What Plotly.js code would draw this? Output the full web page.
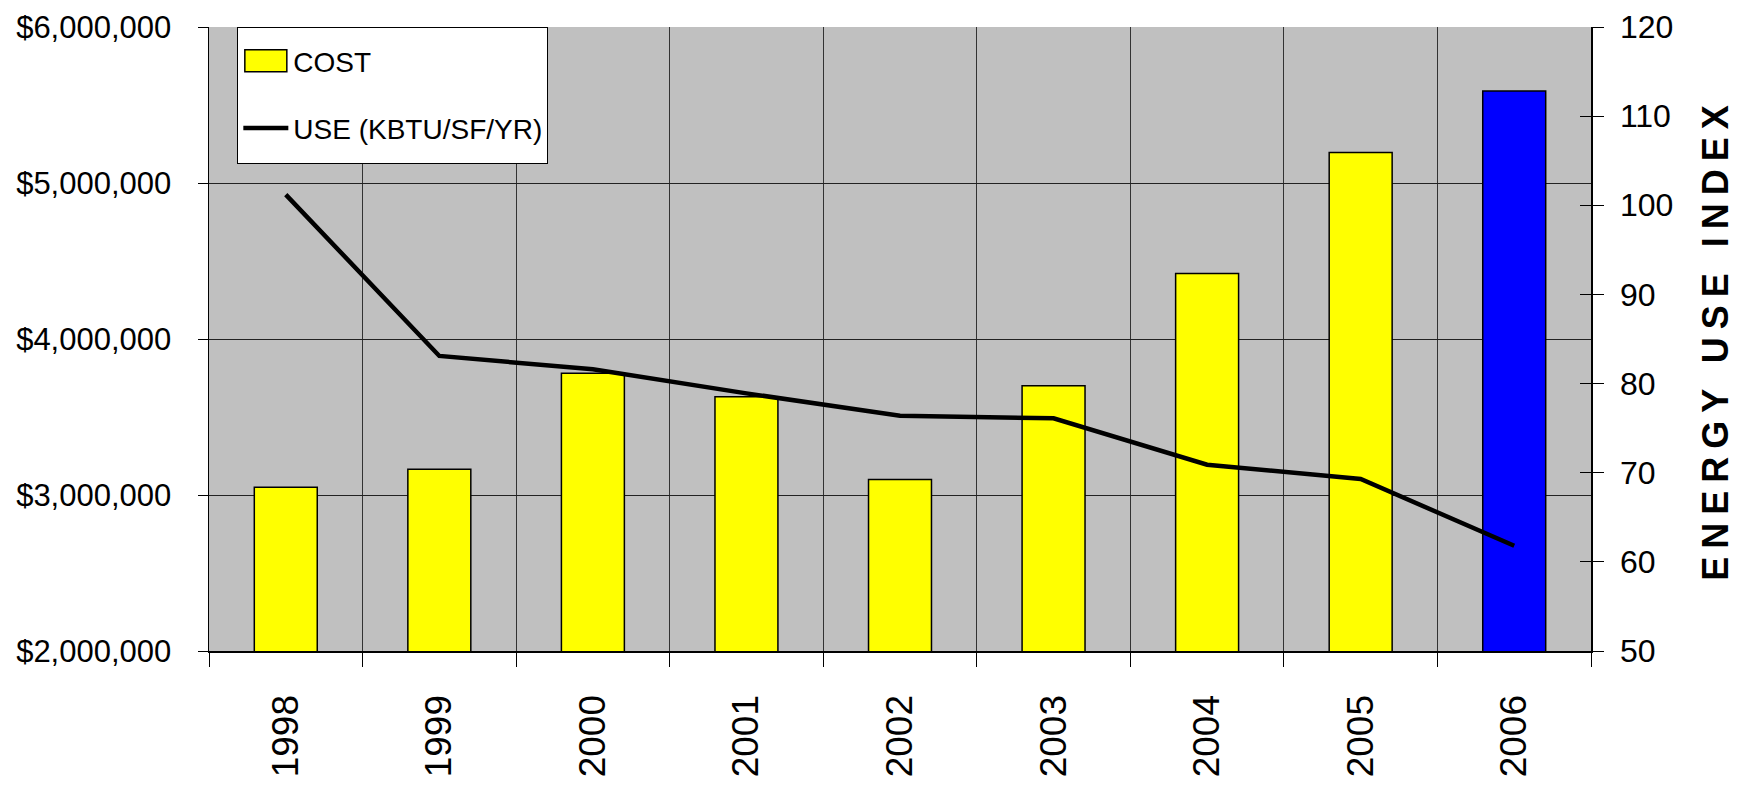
<!DOCTYPE html>
<html>
<head>
<meta charset="utf-8">
<script src="https://cdn.plot.ly/plotly-3.0.1.min.js"></script>
<style>
  html, body { margin: 0; padding: 0; background: #ffffff; }
  #chart { width: 1739px; height: 787px; }
</style>
</head>
<body>
<div id="chart"></div>
<script>
// ---- data ----
const years = ['1998', '1999', '2000', '2001', '2002', '2003', '2004', '2005', '2006'];
const cost = [3050000, 3165000, 3780000, 3630000, 3100000, 3700000, 4420000, 5195000, 5590000];
const useIndex = [101.2, 83.1, 81.6, 78.9, 76.4, 76.1, 70.9, 69.3, 61.8];
const barColors = ['#FFFF00', '#FFFF00', '#FFFF00', '#FFFF00', '#FFFF00', '#FFFF00', '#FFFF00', '#FFFF00', '#0000FF'];
const costName = 'COST';
const useName = 'USE (KBTU/SF/YR)';
const rightTitle = 'ENERGY USE INDEX';

const ARIAL = "'Liberation Sans', Arial, sans-serif";

const traces = [
  {
    type: 'bar', name: costName, x: years, y: cost, xaxis: 'x', yaxis: 'y',
    width: 0.41,
    marker: { color: barColors, line: { color: '#000000', width: 1.5 } },
    legendgroup: 'a'
  },
  {
    type: 'scatter', mode: 'lines', name: useName, x: years, y: useIndex, xaxis: 'x', yaxis: 'y2',
    line: { color: '#000000', width: 4.5 },
    legendgroup: 'b'
  },
  // helper so the inside-tick overlay axis is drawn
  { type: 'scatter', x: [years[0]], y: [null], yaxis: 'y3', showlegend: false, hoverinfo: 'skip' }
];

const layout = {
  width: 1739, height: 787,
  margin: { l: 209, r: 148, t: 27, b: 136 },
  paper_bgcolor: '#ffffff',
  plot_bgcolor: '#C0C0C0',
  showlegend: true,
  legend: {
    x: 0.0205, y: 1, xanchor: 'left', yanchor: 'top',
    bgcolor: '#ffffff', bordercolor: '#000000', borderwidth: 1,
    font: { family: ARIAL, size: 28, color: '#000000' },
    traceorder: 'grouped', tracegroupgap: 28, itemwidth: 45
  },
  xaxis: {
    type: 'category', tickson: 'boundaries',
    showgrid: true, gridcolor: '#333333', gridwidth: 1,
    showline: true, linecolor: '#000000', linewidth: 1.5,
    ticks: 'outside', ticklen: 14, tickcolor: '#000000', tickwidth: 1,
    tickangle: -90, ticklabelstandoff: 10,
    tickfont: { family: ARIAL, size: 37, color: '#000000' },
    fixedrange: true
  },
  yaxis: {
    range: [2000000, 6000000], dtick: 1000000, tick0: 0,
    tickformat: '$,.0f',
    showgrid: true, gridcolor: '#222222', gridwidth: 1,
    zeroline: false,
    showline: true, linecolor: '#000000', linewidth: 1.5,
    ticks: 'outside', ticklen: 10, tickcolor: '#000000', tickwidth: 1,
    ticklabelstandoff: 20,
    tickfont: { family: ARIAL, size: 31, color: '#000000' },
    fixedrange: true
  },
  yaxis2: {
    overlaying: 'y', side: 'right',
    range: [50, 120], dtick: 10, tick0: 0,
    showgrid: false, zeroline: false,
    showline: true, linecolor: '#000000', linewidth: 1.5,
    ticks: 'outside', ticklen: 11, tickcolor: '#000000', tickwidth: 1,
    ticklabelstandoff: 10,
    tickfont: { family: ARIAL, size: 32, color: '#000000' },
    title: { text: rightTitle, standoff: 30, font: { family: ARIAL, size: 36, color: '#000000', weight: 'bold' } },
    fixedrange: true
  },
  yaxis3: {
    overlaying: 'y', side: 'right',
    range: [50, 120], dtick: 10, tick0: 0,
    showgrid: false, zeroline: false, showline: false,
    ticks: 'inside', ticklen: 11, tickcolor: '#000000', tickwidth: 1,
    showticklabels: false, fixedrange: true
  }
};

Plotly.newPlot('chart', traces, layout, { displayModeBar: false, staticPlot: true }).then(function (gd) {
  const t = gd.querySelector('.g-y2title text');
  if (t) t.style.letterSpacing = '8px';
  // legend styling: larger bar swatch, taller box as in the reference
  const barSwatch = gd.querySelector('.legend .legendpoints path');
  if (barSwatch) barSwatch.setAttribute('d', 'M21,11H-21V-11H21Z');
  const bg = gd.querySelector('.legend rect.bg');
  if (bg) bg.setAttribute('height', String(parseFloat(bg.getAttribute('height')) + 18));
  const sb = gd.querySelector('.legend .scrollbox');
  if (sb) sb.setAttribute('transform', (sb.getAttribute('transform') || '') + ' translate(0,8)');
  // place the vertical year labels so their top edge sits where the reference has it
  const top0 = gd.getBoundingClientRect().top;
  gd.querySelectorAll('.xtick text').forEach(function (el) {
    const r = el.getBoundingClientRect();
    const dy = 695 - (r.top - top0);
    const g = el.parentNode;
    g.setAttribute('transform', (g.getAttribute('transform') || '') + ' translate(0,' + dy.toFixed(1) + ')');
  });
});
</script>
</body>
</html>
